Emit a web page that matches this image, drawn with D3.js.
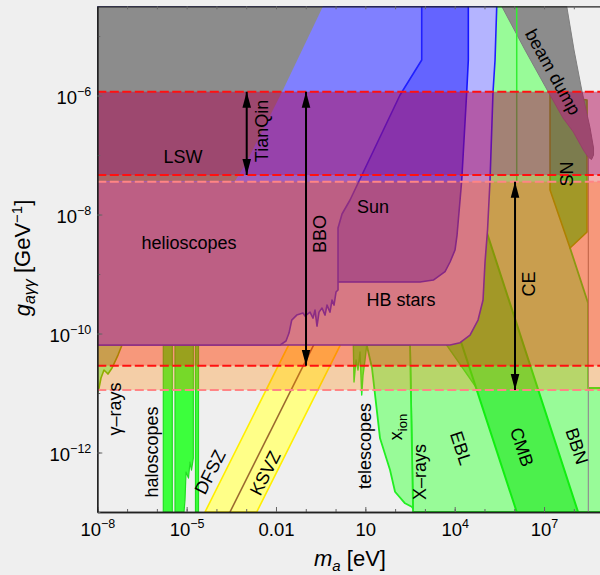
<!DOCTYPE html>
<html><head><meta charset="utf-8">
<script src="https://cdn.jsdelivr.net/npm/d3@7"></script>
<style>
body{margin:0;background:#efefef;}
svg{display:block;font-family:"Liberation Sans",Arial,sans-serif;}
</style></head><body>
<svg id="chart" width="600" height="575"></svg>
<script>
// ---- data: [log10(m_a / eV), log10(g / GeV^-1)] ----
const xDecades = d3.range(-8, 10);
const yDecades = d3.range(-13, -4);
const xTickLabels = [[-8,"10","−8"],[-5,"10","−5"],[-2,"0.01",""],[1,"10",""],[4,"10","4"],[7,"10","7"]];
const yTickLabels = [[-6,"10","−6"],[-8,"10","−8"],[-10,"10","−10"],[-12,"10","−12"]];

const greenBig = [[2.500,-4.5],[6.866,-4.5],[8.075,-6.075],[7.873,-8.563],[8.478,-9.488],[8.478,-10.916],[9.1,-10.916],[9.1,-13],[2.601,-13],[2.500,-10.194]];
const darkTri = [[3.46,-10.0],[4.12,-10.0],[4.784,-10.95]];
const cmbBand = [[2.159,-7],[4.231,-7],[8.142,-13],[6.083,-13]];
const snRegion = [[7.202,-5.991],[7.202,-7.588],[7.873,-8.563],[8.444,-8.294],[8.444,-6.075]];
const xionRegion = [[1.046,-10.194],[1.224,-10.580],[1.493,-11.762],[1.829,-12.295],[1.997,-12.659],[2.332,-12.854],[2.557,-12.911],[2.601,-12.94],[2.500,-10.194]];
const telescopes = [[0.597,-10.194],[0.620,-10.815],[0.687,-10.445],[0.754,-10.614],[0.821,-10.311],[0.878,-11.034],[0.922,-10.698],[0.989,-10.445],[1.046,-10.194]];
const gammaRays = [[-8,-10.194],[-7.171,-10.194],[-7.305,-10.362],[-7.506,-10.580],[-7.641,-10.681],[-7.775,-10.614],[-7.876,-10.748],[-7.943,-10.916],[-8,-11.0]];
const halo1 = [[-5.784,-10.194],[-5.482,-10.194],[-5.482,-13],[-5.784,-13]];
const halo2 = [[-5.391,-10.194],[-4.776,-10.194],[-4.776,-12.093],[-4.837,-12.295],[-4.887,-12.160],[-4.938,-12.429],[-5.021,-12.328],[-5.055,-12.799],[-5.089,-13],[-5.391,-13]];
const halo3 = [[-4.703,-10.194],[-4.602,-10.194],[-4.602,-13],[-4.703,-13]];
const qcdBand = [[-4.383,-13],[-0.883,-9.5],[0.853,-9.5],[-2.647,-13]];
const ksvzLine = [[-3.544,-13],[-0.044,-9.5]];
const hbStars = [[-8,-4.5],[5.412,-4.5],[5.355,-5.403],[5.287,-5.941],[5.187,-7.420],[5.103,-8.261],[5.019,-8.798],[4.952,-9.437],[4.784,-9.773],[4.515,-10.026],[4.180,-10.155],[3.844,-10.194],[-8,-10.194]];
const sunRegion = [[2.165,-4.5],[4.458,-4.5],[4.458,-5.403],[4.404,-5.941],[4.237,-7.420],[4.180,-7.756],[4.079,-8.345],[4.011,-8.597],[3.844,-8.798],[3.676,-8.961],[3.283,-9.101],[2.836,-9.135],[-0.187,-9.135],[-0.187,-6.075]];
const helioscopes = [[-8,-4.5],[2.893,-4.5],[2.893,-5.403],[2.165,-5.991],[0.486,-7.756],[0.217,-7.991],[0.083,-8.227],[0.083,-9.269],[0.015,-9.303],[-0.052,-9.522],[-0.119,-9.438],[-0.187,-9.640],[-0.287,-9.522],[-0.354,-9.690],[-0.455,-9.572],[-0.555,-9.640],[-0.623,-9.875],[-0.690,-9.606],[-0.757,-9.741],[-0.858,-9.640],[-1.026,-9.707],[-1.093,-9.656],[-1.304,-9.690],[-1.472,-9.774],[-1.563,-9.992],[-1.664,-10.126],[-1.865,-10.194],[-8,-10.194]];
const lswRegion = [[-8,-4.5],[-0.421,-4.5],[-1.798,-5.941],[-3.040,-7.168],[-3.376,-7.437],[-8,-7.437]];
const beamDump = [[5.580,-4.5],[6.362,-5.235],[7.144,-5.941],[7.638,-6.378],[7.984,-6.613],[8.320,-6.916],[8.478,-7.034],[8.595,-7.075],[8.662,-7.000],[8.662,-6.882],[8.545,-6.546],[8.266,-5.907],[8.007,-5.235],[7.762,-4.5]];
const greenEdgeLine = [[6.083,-4.5],[6.083,-7.437]];
const grayEdgeLine = [[8.488,-7.05],[8.488,-13]];

// GW-detector reach bands [top, bottom] in log10 g
const bandCE = [-7.448,-10.950];
const bandBBO = [-5.936,-10.541];
const bandTianQin = [-5.936,-7.336];
const redDashed = [-5.936,-7.336,-10.541];
const pinkDashed = [-7.448,-10.950];
const arrowMass = [-2.983,-0.992,6.026];
const arrowBands = [bandTianQin, bandBBO, bandCE];

const regionLabels = [
 ["LSW",-5.122,-7.033,0],["TianQin",-2.469,-6.596,-90],["helioscopes",-4.921,-8.479,0],
 ["BBO",-0.522,-8.327,-90],["Sun",1.258,-7.874,0],["HB stars",2.198,-9.437,0],
 ["CE",6.496,-9.168,-90],["SN",7.772,-7.319,-90],["beam dump",7.302,-5.604,61],
 ["γ–rays",-7.406,-11.269,-90],["haloscopes",-6.163,-11.992,-90],["DFSZ",-4.216,-12.328,-63.4],
 ["KSVZ",-2.369,-12.345,-63.4],["telescopes",0.989,-11.891,-90],["x|ion",2.030,-11.572,-90],
 ["X–rays",2.836,-12.328,-90],["EBL",4.213,-11.925,72],["CMB",6.261,-11.908,72],["BBN",8.108,-11.891,72]
];

// ---- drawing ----
const L=97.3, R=603.6, T=6.3, B=512;
const x = d3.scaleLog().domain([1e-8,1e9]).range([L,R]);
const y = d3.scaleLog().domain([1e-13,Math.pow(10,-4.5)]).range([B,T]);
const px = d => x(Math.pow(10,d[0]));
const py = d => y(Math.pow(10,d[1]));
const line = d3.line().x(px).y(py);
const svg = d3.select("#chart");
const defs = svg.append("defs");
defs.append("clipPath").attr("id","clip").append("rect").attr("x",L).attr("y",T).attr("width",R-L).attr("height",B-T);
defs.append("marker").attr("id","ah").attr("viewBox","0 -5 16 10").attr("refX",16).attr("refY",0)
  .attr("markerWidth",16).attr("markerHeight",10).attr("markerUnits","userSpaceOnUse").attr("orient","auto-start-reverse")
  .append("path").attr("d","M0,-4.3L16,0L0,4.3Z").attr("fill","#000");

const plot = svg.append("g").attr("clip-path","url(#clip)");
function region(data, fill, stroke, sw){
  plot.append("path").attr("d", line(data)+"Z").attr("fill",fill)
    .attr("stroke",stroke||"none").attr("stroke-width",sw||1.6).attr("stroke-linejoin","round");
}
function pline(data, stroke, sw){
  plot.append("path").attr("d", line(data)).attr("fill","none").attr("stroke",stroke).attr("stroke-width",sw||1.5);
}

region(greenBig, "#98fb98", "#22ee22", 1.8);
region(darkTri, "#4cf04c", "#22ee22", 1.4);
region(cmbBand, "#4cf04c", "#11ee11", 2);
region(snRegion, "#4cf04c", "#66c000", 1.6);
region(xionRegion, "#98fb98", "#22ee22", 1.8);
region(telescopes, "#55ff55", "#22ee22", 1.4);
region(gammaRays, "#98fb98", "#60c000", 1.6);
region(halo1, "#3cff3c", "#22dd22", 1.2);
region(halo2, "#3cff3c", "#22dd22", 1.2);
region(halo3, "#3cff3c", "#22dd22", 1.2);
region(qcdBand, "#ffff88", "#ffee00", 1.6);
pline(ksvzLine, "#9b6a2f", 1.6);
region(hbStars, "#b4b4ff", "#2020ff", 1.6);
region(sunRegion, "#6464ff", "#1515ff", 1.6);
region(helioscopes, "#8080ff", "#2020ff", 1.6);
region(lswRegion, "#8c8c8c", null);
region(beamDump, "#8c8c8c", "#7e7e7e", 1);
pline(greenEdgeLine, "#33ee33", 1.5);
pline(grayEdgeLine, "#909090", 1.2);

// translucent detector bands
function band(b, fill){
  plot.append("rect").attr("x",L).attr("width",R-L)
    .attr("y", y(Math.pow(10,b[0]))).attr("height", y(Math.pow(10,b[1]))-y(Math.pow(10,b[0])))
    .attr("fill",fill);
}
band(bandCE, "rgba(255,128,0,0.3)");
band(bandBBO, "rgba(255,0,0,0.26)");
band(bandTianQin, "rgba(128,0,128,0.3)");

redDashed.forEach(v=>{
  plot.append("line").attr("x1",L).attr("x2",R).attr("y1",y(Math.pow(10,v))).attr("y2",y(Math.pow(10,v)))
   .attr("stroke","#ff1010").attr("stroke-width",2).attr("stroke-dasharray","9,3.5");
});
pinkDashed.forEach(v=>{
  plot.append("line").attr("x1",L).attr("x2",R).attr("y1",y(Math.pow(10,v))).attr("y2",y(Math.pow(10,v)))
   .attr("stroke","#ff8585").attr("stroke-width",2).attr("stroke-dasharray","9,3.5");
});
arrowMass.forEach((m,i)=>{
  const b = arrowBands[i];
  plot.append("line").attr("x1",x(Math.pow(10,m))).attr("x2",x(Math.pow(10,m)))
    .attr("y1",y(Math.pow(10,b[0]))).attr("y2",y(Math.pow(10,b[1])))
    .attr("stroke","#000").attr("stroke-width",2)
    .attr("marker-start","url(#ah)").attr("marker-end","url(#ah)");
});

// labels
const lab = svg.append("g").attr("font-size",18).attr("fill","#000");
regionLabels.forEach(([t,m,g,r])=>{
  const tx = lab.append("text").attr("transform",`translate(${x(Math.pow(10,m))},${y(Math.pow(10,g))}) rotate(${r})`)
    .attr("text-anchor","middle").attr("dy","0.35em");
  if(t.includes("|")){
    const [a,s]=t.split("|");
    tx.append("tspan").text(a);
    tx.append("tspan").attr("font-size",13).attr("dy",5).text(s);
  } else tx.text(t);
});

// axes
const ax = svg.append("g");
function styleAxis(g){
  g.attr("font-family",null).attr("font-size",18.5);
  g.select(".domain").attr("stroke","#222").attr("stroke-width",1.3);
  g.selectAll(".tick line").attr("stroke","#666").attr("stroke-width",1);
}
const xb = ax.append("g").attr("transform",`translate(0,${B})`)
  .call(d3.axisBottom(x).tickValues(xDecades.map(d=>Math.pow(10,d))).tickSize(-3).tickSizeOuter(0).tickFormat(()=>""));
styleAxis(xb);
const xl = ax.append("g").attr("transform",`translate(0,${B})`)
  .call(d3.axisBottom(x).tickValues(xTickLabels.map(d=>Math.pow(10,d[0]))).tickSize(-5).tickSizeOuter(0).tickPadding(11).tickFormat(()=>""));
styleAxis(xl);
xl.selectAll(".tick text").each(function(d){
  const lm = Math.round(Math.log10(d)); const lb = xTickLabels.find(t=>t[0]===lm);
  const t = d3.select(this).attr("fill","#000");
  t.append("tspan").text(lb[1]);
  if(lb[2]) t.append("tspan").attr("dy",-8).attr("font-size",12.5).text(lb[2]);
});
const xt = ax.append("g").attr("transform",`translate(0,${T})`)
  .call(d3.axisTop(x).tickValues(xDecades.map(d=>Math.pow(10,d))).tickSize(-3).tickSizeOuter(0).tickFormat(()=>""));
styleAxis(xt);
const yb = ax.append("g").attr("transform",`translate(${L},0)`)
  .call(d3.axisLeft(y).tickValues(yDecades.map(d=>Math.pow(10,d))).tickSize(-3).tickSizeOuter(0).tickFormat(()=>""));
styleAxis(yb);
const yl = ax.append("g").attr("transform",`translate(${L},0)`)
  .call(d3.axisLeft(y).tickValues(yTickLabels.map(d=>Math.pow(10,d[0]))).tickSize(-5).tickSizeOuter(0).tickPadding(6).tickFormat(()=>""));
styleAxis(yl);
yl.selectAll(".tick text").attr("dy","0.45em").each(function(d){
  const lg = Math.round(Math.log10(d)); const lb = yTickLabels.find(t=>t[0]===lg);
  const t = d3.select(this).attr("fill","#000");
  t.append("tspan").text(lb[1]);
  t.append("tspan").attr("dy",-8).attr("font-size",12.5).text(lb[2]);
});

// axis titles
const xtitle = svg.append("text").attr("x",350).attr("y",566).attr("text-anchor","middle").attr("font-size",22);
xtitle.append("tspan").attr("font-style","italic").text("m");
xtitle.append("tspan").attr("font-style","italic").attr("font-size",15).attr("dy",5).text("a");
xtitle.append("tspan").attr("dy",-5).text(" [eV]");
const ytitle = svg.append("text").attr("transform","translate(30,258) rotate(-90)").attr("text-anchor","middle").attr("font-size",22);
ytitle.append("tspan").attr("font-style","italic").text("g");
ytitle.append("tspan").attr("font-style","italic").attr("font-size",16).attr("dy",5).text("aγγ");
ytitle.append("tspan").attr("dy",-5).text(" [GeV");
ytitle.append("tspan").attr("font-size",15).attr("dy",-8).text("−1");
ytitle.append("tspan").attr("dy",8).text("]");
</script>
</body></html>
